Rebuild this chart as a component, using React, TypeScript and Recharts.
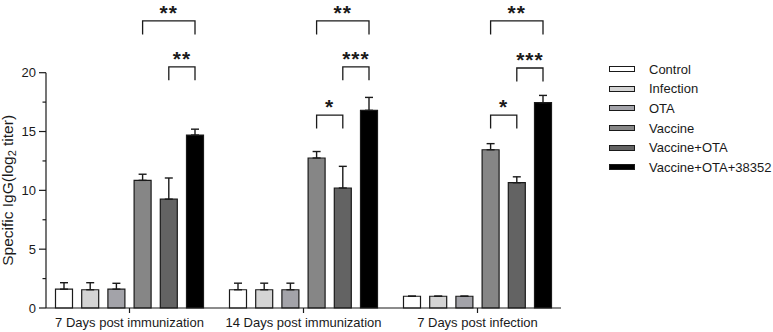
import React from 'react';
import { BarChart, Bar, XAxis, YAxis, ErrorBar, Legend, Rectangle } from 'recharts';

const FONT = '"Liberation Sans", Arial, sans-serif';
const INK = '#1a1a1a';

const groups = ['7 Days post immunization', '14 Days post immunization', '7 Days post infection'];

const seriesNames = ['Control', 'Infection', 'OTA', 'Vaccine', 'Vaccine+OTA', 'Vaccine+OTA+38352'];
const seriesColors = ['#ffffff', '#d4d4d4', '#a3a3a9', '#868686', '#636363', '#000000'];

// mean specific IgG, log2 titer
const control = [1.6, 1.55, 1.0];
const infection = [1.55, 1.55, 1.0];
const ota = [1.6, 1.55, 1.0];
const vaccine = [10.85, 12.75, 13.45];
const vaccineOta = [9.25, 10.2, 10.65];
const vaccineOta38352 = [14.7, 16.8, 17.45];

// SD, plotted above the bar only
const controlSd = [0.55, 0.56, 0];
const infectionSd = [0.6, 0.56, 0];
const otaSd = [0.5, 0.56, 0];
const vaccineSd = [0.52, 0.55, 0.52];
const vaccineOtaSd = [1.8, 1.84, 0.5];
const vaccineOta38352Sd = [0.5, 1.1, 0.62];

const means = [control, infection, ota, vaccine, vaccineOta, vaccineOta38352];
const sds = [controlSd, infectionSd, otaSd, vaccineSd, vaccineOtaSd, vaccineOta38352Sd];

// significance brackets: group, first bar, last bar, height (log2 titer), stars
const bracketGroup = [0, 0, 1, 1, 1, 2, 2, 2];
const bracketFrom = [3, 4, 3, 4, 3, 3, 4, 3];
const bracketTo = [5, 5, 5, 5, 4, 5, 5, 4];
const bracketLevel = [24.4, 20.5, 24.4, 20.5, 16.4, 24.4, 20.4, 16.4];
const bracketStars = ['**', '**', '**', '***', '*', '**', '***', '*'];

const yTicks = [0, 2.5, 5, 7.5, 10, 12.5, 15, 17.5, 20];

const rows = groups.map((group, g) => {
  const row: Record<string, any> = { group };
  seriesNames.forEach((_, s) => {
    row[`s${s}`] = means[s][g];
    row[`e${s}`] = [0, sds[s][g]];
  });
  return row;
});

const BAR_SIZE = 17;
const BAR_GAP = 9.2;
const LEG = 13.5;
const Y_TICK_SIZE = 7;
const Y_TICK_MARGIN = 3;

// last bar of each group also carries the significance brackets of that group
const BarWithBrackets = (props: any) => {
  const { x, y, width, height, index } = props;
  const base = y + height;
  const perUnit = height / vaccineOta38352[index];
  const pitch = width + BAR_GAP;
  const centre = (k: number) => x + width / 2 - (seriesNames.length - 1 - k) * pitch;
  const toY = (v: number) => base - v * perUnit;
  return (
    <g>
      <Rectangle {...props} />
      {bracketGroup.map((g, i) => {
        if (g !== index) return null;
        const x1 = centre(bracketFrom[i]);
        const x2 = centre(bracketTo[i]);
        const top = toY(bracketLevel[i]);
        return (
          <g key={i}>
            <path
              d={`M${x1},${top + LEG}V${top}H${x2}V${top + LEG}`}
              fill="none"
              stroke={INK}
              strokeWidth={1.3}
            />
            <text
              x={(x1 + x2) / 2}
              y={top - 0.7}
              textAnchor="middle"
              fontSize={21}
              fontWeight="bold"
              letterSpacing={1}
              fontFamily={FONT}
              fill={INK}
            >
              {bracketStars[i]}
            </text>
          </g>
        );
      })}
    </g>
  );
};

const YTick = (props: any) => {
  const { x, y, payload } = props;
  const major = payload.value % 5 === 0;
  const axisX = x + Y_TICK_MARGIN + Y_TICK_SIZE;
  return (
    <g>
      <line
        x1={axisX - (major ? Y_TICK_SIZE : Y_TICK_SIZE / 2)}
        x2={axisX}
        y1={y}
        y2={y}
        stroke={INK}
        strokeWidth={1.2}
      />
      {major && (
        <text x={x} y={y} dy="0.36em" textAnchor="end" fontSize={13} fontFamily={FONT} fill={INK}>
          {payload.value}
        </text>
      )}
    </g>
  );
};

const YLabel = (props: any) => {
  const { viewBox } = props;
  const cx = viewBox.x + 13;
  const cy = viewBox.y + viewBox.height / 2;
  return (
    <text
      x={cx}
      y={cy}
      transform={`rotate(-90, ${cx}, ${cy})`}
      textAnchor="middle"
      fontSize={15.5}
      fontFamily={FONT}
      fill={INK}
    >
      <tspan>Specific IgG(log</tspan>
      <tspan fontSize={11} dy={3.5}>2</tspan>
      <tspan dy={-3.5}> titer)</tspan>
    </text>
  );
};

const LegendList = ({ payload }: any) => (
  <div style={{ fontFamily: FONT, fontSize: 13, color: INK }}>
    {(payload || []).map((item: any) => (
      <div key={item.value} style={{ display: 'flex', alignItems: 'center', height: 19.6 }}>
        <span
          style={{
            display: 'inline-block',
            width: 26,
            height: 6,
            boxSizing: 'border-box',
            background: item.color,
            border: `1px solid ${INK}`,
            marginRight: 14,
          }}
        />
        <span>{item.value}</span>
      </div>
    ))}
  </div>
);

export default function App() {
  return (
    <div style={{ position: 'absolute', left: 0, top: 0, width: 773, height: 332, background: '#fff' }}>
      <BarChart
        width={773}
        height={332}
        data={rows}
        margin={{ top: 72.7, right: 212, bottom: 0, left: 0 }}
        barSize={BAR_SIZE}
        barGap={BAR_GAP}
      >
        <XAxis
          dataKey="group"
          height={24}
          padding={{ left: -3.5, right: -3.5 }}
          interval={0}
          tickSize={5}
          tickMargin={5}
          stroke={INK}
          tick={{ fontSize: 13, fill: INK, fontFamily: FONT }}
          axisLine={{ stroke: INK, strokeWidth: 1.2 }}
          tickLine={{ stroke: INK, strokeWidth: 1.2 }}
        />
        <YAxis
          width={46}
          domain={[0, 20]}
          ticks={yTicks}
          interval={0}
          tickSize={Y_TICK_SIZE}
          tickMargin={Y_TICK_MARGIN}
          tickLine={false}
          tick={<YTick />}
          axisLine={{ stroke: INK, strokeWidth: 1.2 }}
          label={<YLabel />}
        />
        <Legend
          layout="horizontal"
          verticalAlign="middle"
          align="center"
          content={<LegendList />}
          wrapperStyle={{ left: 609, top: 59.5, width: 164, height: 'auto' }}
        />
        {seriesNames.map((name, s) => (
          <Bar
            key={name}
            dataKey={`s${s}`}
            name={name}
            fill={seriesColors[s]}
            stroke={INK}
            strokeWidth={1.2}
            isAnimationActive={false}
            shape={s === seriesNames.length - 1 ? <BarWithBrackets /> : undefined}
          >
            <ErrorBar dataKey={`e${s}`} direction="y" width={4} stroke={INK} strokeWidth={1.4} />
          </Bar>
        ))}
      </BarChart>
    </div>
  );
}
